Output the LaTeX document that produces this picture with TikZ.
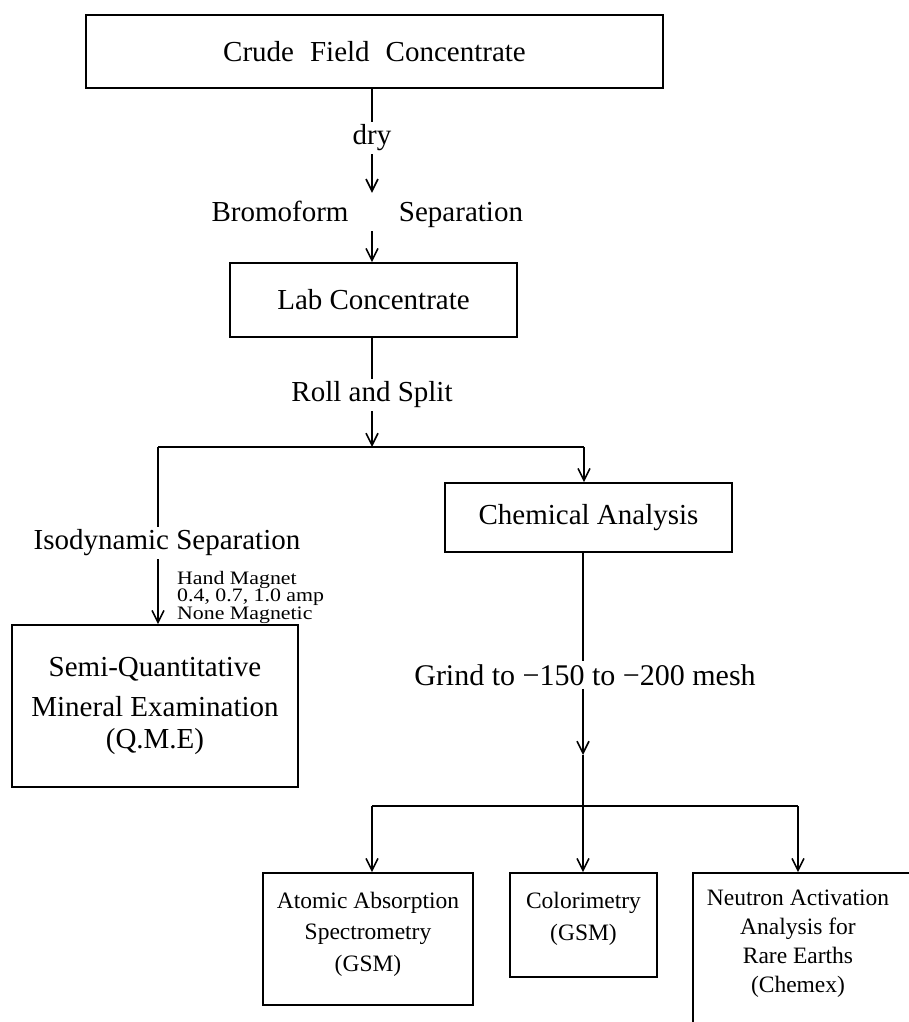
\documentclass[tikz,border=0pt]{standalone}
\usepackage{fontspec}
\setmainfont{Liberation Serif}
\newfontfamily\smallfont{Liberation Serif}[FakeStretch=1.15]
\usetikzlibrary{arrows.meta}
\tikzset{
  box/.style={draw, line width=1.6pt, inner sep=0pt, align=center},
  lbl/.style={inner sep=3pt, align=center},
  conn/.style={line width=1.6pt},
  arr/.style={conn, -{Straight Barb[length=12pt,width=12pt]}},
  big/.style={font=\fontsize{29}{33}\selectfont},
  mid/.style={inner sep=0pt, align=center, font=\fontsize{23.5}{31.5}\selectfont},
}
\begin{document}
\begin{tikzpicture}[x=1pt,y=-1pt]
\fill[white] (0,0) rectangle (908,1022);
\useasboundingbox (0,0) rectangle (908,1022);

% boxes
\node[box,big,minimum width=577pt,minimum height=73pt] (top) at (374.5,51.5) {Crude\hspace{16pt}Field\hspace{16pt}Concentrate};
\node[box,big,minimum width=287pt,minimum height=74pt] (lab) at (373.5,300) {Lab Concentrate};
\node[box,big,minimum width=287pt,minimum height=69pt] (chem) at (588.5,517.5) {Chemical Analysis};
\node[box,font=\fontsize{29}{32}\selectfont,minimum width=286pt,minimum height=162pt] (semi) at (155,706) {Semi-Quantitative\\[8pt] Mineral Examination\\ (Q.M.E)};
\node[box,minimum width=210pt,minimum height=132pt] (atomic) at (368,939) {};
\node[mid] (atomictext) at (368,934) {Atomic Absorption\\ Spectrometry\\ (GSM)};
\node[box,minimum width=147pt,minimum height=104pt] (colori) at (583.5,925) {};
\node[mid] (coloritext) at (583.5,919) {Colorimetry\\ (GSM)};
\node[box,minimum width=237pt,minimum height=177pt] (nbox) at (811.5,961.5) {};
\node[lbl,font=\fontsize{23.5}{29}\selectfont] (ntext) at (798,944) {Neutron Activation\\ Analysis for\\ Rare Earths\\ (Chemex)};

% labels
\node[lbl,big] (dry) at (372,138) {dry};
\node[inner sep=0pt,minimum height=38pt,minimum width=1pt] (bsgap) at (372,212) {};
\node[lbl,big,anchor=base] (brom) at (280,221) {Bromoform};
\node[lbl,big,anchor=base] (sep) at (461,221) {Separation};
\node[lbl,big] (roll) at (372,395) {Roll and Split};
\node[lbl,big] (iso) at (167,543) {Isodynamic Separation};
\node[inner sep=0pt,anchor=west,align=left,font=\smallfont\fontsize{19}{17.5}\selectfont] (hm) at (177,597) {Hand Magnet\\ 0.4, 0.7, 1.0 amp\\ None Magnetic};
\node[lbl,font=\fontsize{30}{34}\selectfont] (grind) at (585,675) {Grind to −150 to −200 mesh};

% junction coordinates
\coordinate (j1) at (372,447);
\coordinate (jL) at (158,447);
\coordinate (jR) at (584,447);
\coordinate (j2) at (583,806);
\coordinate (gtip) at (583,755);
\coordinate (b1) at (372,806);
\coordinate (b3) at (798,806);

% connectors
\draw[conn] (top.south -| dry) -- (dry.north);
\draw[arr] (dry.south) -- (bsgap.north);
\draw[arr] (bsgap.south) -- (bsgap.south |- lab.north);
\draw[conn] (lab.south -| roll) -- (roll.north);
\draw[arr] (roll.south) -- (j1);
\draw[conn] (jL) -- (jR);
\draw[arr] (jR) -- (jR |- chem.north);
\draw[conn] (jL) -- (jL |- iso.north);
\draw[arr] (jL |- iso.south) -- (jL |- semi.north);
\draw[conn] (chem.south -| j2) -- (j2 |- grind.north);
\draw[arr] (j2 |- grind.south) -- (gtip);
\draw[conn] (gtip) -- (j2);
\draw[conn] (b1) -- (b3);
\draw[arr] (b1) -- (b1 |- atomic.north);
\draw[arr] (j2) -- (j2 |- colori.north);
\draw[arr] (b3) -- (b3 |- nbox.north);
\end{tikzpicture}
\end{document}
